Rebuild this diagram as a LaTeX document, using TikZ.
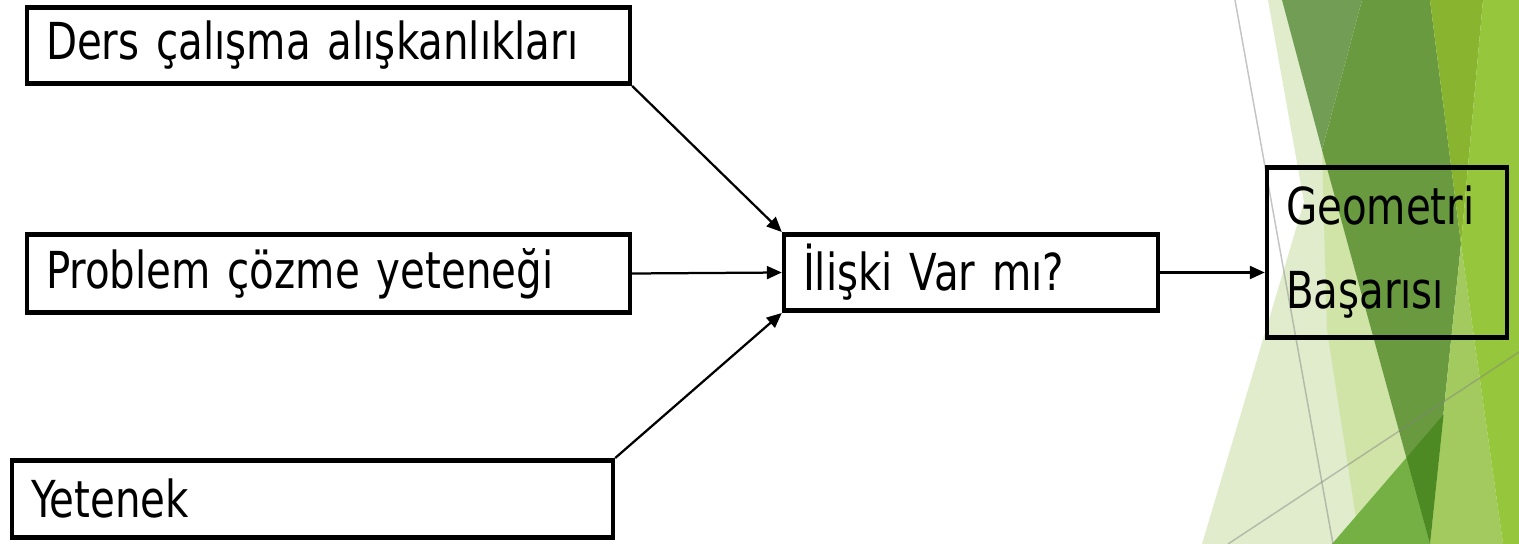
\documentclass[tikz,border=0pt]{standalone}
\usepackage{fontspec}
\setmainfont[FakeStretch=0.88, WordSpace=0.8]{DejaVu Sans Condensed}
\usetikzlibrary{arrows.meta}

\definecolor{soluk}{HTML}{E0ECCC}
\definecolor{soluk2}{HTML}{D1E4A8}
\definecolor{griyesil}{HTML}{719D55}
\definecolor{koyu}{HTML}{6A9A40}
\definecolor{sari}{HTML}{88B42F}
\definecolor{parlak}{HTML}{96C63C}
\definecolor{acik}{HTML}{A3CA5E}
\definecolor{orta}{HTML}{74B044}
\definecolor{enkoyu}{HTML}{4E8A24}

\tikzset{
  kutu/.style={draw, line width=0.09cm, inner xsep=0.38cm, inner ysep=0pt, align=left,
    font=\fontsize{29}{35}\selectfont},
  ok/.style={line width=0.045cm, -{Triangle[length=0.3cm,width=0.26cm]}},
  ince/.style={draw=gray, draw opacity=0.45, line width=0.03cm}
}

\begin{document}
\begin{tikzpicture}[x=0.02cm, y=-0.02cm]
  \useasboundingbox (0,0) rectangle (1519,544);
  \fill[white] (0,0) rectangle (1519,544);

  \fill[soluk] (1268,0) -- (1282,0) -- (1322,150) -- (1430,544) -- (1202,544) -- (1304,202) -- cycle;
  \fill[soluk2] (1322,150) -- (1327,330) -- (1360,544) -- (1430,544) -- cycle;
  \fill[griyesil] (1282,0) -- (1362,0) -- (1322,150) -- cycle;
  \fill[koyu] (1362,0) -- (1430,0) -- (1461,244) -- (1430,544) -- (1322,150) -- cycle;
  \fill[sari] (1430,0) -- (1483,0) -- (1461,244) -- cycle;
  \fill[acik] (1461,244) -- (1473,330) -- (1503,544) -- (1430,544) -- cycle;
  \fill[parlak] (1483,0) -- (1519,0) -- (1519,544) -- (1503,544) -- (1473,330) -- (1461,244) -- cycle;
  \fill[orta] (1332,544) -- (1406.5,457.6) -- (1430,544) -- cycle;
  \fill[enkoyu] (1406.5,457.6) -- (1443.6,414.5) -- (1430,544) -- cycle;
  \draw[ince] (1235,0) -- (1333,544);
  \draw[ince] (1228,544) -- (1519,352);

  \node[kutu, fill=white, text width=11.30cm, minimum height=1.53cm] (ders) at (328.5,45.5) {Ders çalışma alışkanlıkları};
  \node[kutu, fill=white, text width=11.30cm, minimum height=1.57cm] (problem) at (328.5,273.5) {Problem çözme yeteneği};
  \node[kutu, fill=white, text width=11.26cm, minimum height=1.55cm] (yetenek) at (312.5,499) {Yetenek};
  \node[kutu, fill=white, text width=6.72cm, minimum height=1.53cm] (iliski) at (971,272.5) {İlişki Var mı?};
  \node[kutu, text width=4.04cm, minimum height=3.41cm] (basari) at (1387,252.5) {Geometri\\[0.45cm]Başarısı};

  \draw[ok] (ders.south east) -- (iliski.north west);
  \draw[ok] (problem.east) -- (iliski.west);
  \draw[ok] (yetenek.north east) -- (iliski.south west);
  \draw[ok] (iliski.east) -- (iliski.east -| basari.west);
\end{tikzpicture}
\end{document}
